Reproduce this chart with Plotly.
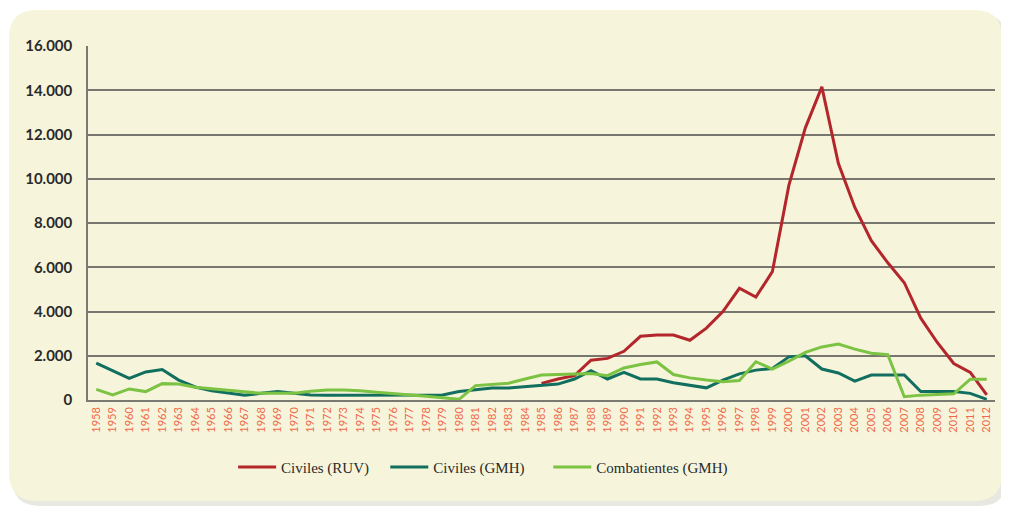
import plotly.graph_objects as go

# Years on the x axis
years = list(range(1958, 2013))
ruv_years = list(range(1985, 2013))

# Civiles (RUV), 1985-2012
civiles_ruv = [750, 950, 1100, 1800, 1880, 2200, 2880, 2940, 2940, 2700,
               3250, 4000, 5050, 4650, 5800, 9700, 12300, 14150, 10700, 8700,
               7200, 6200, 5300, 3700, 2600, 1650, 1250, 230]

# Civiles (GMH), 1958-2012
civiles_gmh = [1670, 1330, 980, 1270, 1380, 900, 590, 420, 310, 220,
               300, 380, 300, 230, 220, 220, 220, 220, 220, 220,
               220, 230, 380, 470, 540, 540, 600, 650, 720, 950,
               1330, 950, 1250, 950, 950, 780, 670, 550, 900, 1180,
               1350, 1420, 1950, 2000, 1400, 1220, 850, 1130, 1130, 1130,
               380, 380, 380, 300, 30]

# Combatientes (GMH), 1958-2012
combatientes_gmh = [480, 230, 500, 380, 740, 720, 580, 500, 440, 370,
                    300, 300, 300, 400, 450, 450, 420, 350, 300, 220,
                    170, 100, 30, 650, 700, 760, 950, 1130, 1150, 1170,
                    1200, 1100, 1450, 1600, 1720, 1150, 1000, 900, 830, 880,
                    1730, 1400, 1750, 2150, 2400, 2530, 2300, 2110, 2050, 150,
                    220, 250, 280, 940, 940]

series_names = ["Civiles (RUV)", "Civiles (GMH)", "Combatientes (GMH)"]

y_ticks = [0, 2000, 4000, 6000, 8000, 10000, 12000, 14000, 16000]

RED = "#b3262b"
TEAL = "#126e5e"
GREEN = "#7cc243"
CREAM = "#f6f5db"

# the page body adds an 8px margin, so the figure is drawn 8px smaller
OFF = 8
W, H = 1009 - OFF, 508 - OFF
L, R, T, B = 88 - OFF, 14, 46 - OFF, 108
pw, ph = W - L - R, H - T - B


def px(x):
    return (x - OFF - L) / pw


def py(y):
    return (H - B - (y - OFF)) / ph


def rounded_panel(x0, y0, x1, y1, r):
    return (f"M {px(x0 + r)},{py(y0)} L {px(x1 - r)},{py(y0)} "
            f"Q {px(x1)},{py(y0)} {px(x1)},{py(y0 + r)} "
            f"L {px(x1)},{py(y1 - r)} "
            f"Q {px(x1)},{py(y1)} {px(x1 - r)},{py(y1)} "
            f"L {px(x0 + r)},{py(y1)} "
            f"Q {px(x0)},{py(y1)} {px(x0)},{py(y1 - r)} "
            f"L {px(x0)},{py(y0 + r)} "
            f"Q {px(x0)},{py(y0)} {px(x0 + r)},{py(y0)} Z")


fig = go.Figure()

# trailing no-break spaces widen the gap between legend entries
fig.add_trace(go.Scatter(x=ruv_years, y=civiles_ruv, mode="lines",
                         name=series_names[0] + "\u00a0" * 3,
                         line=dict(color=RED, width=3)))
fig.add_trace(go.Scatter(x=years, y=civiles_gmh, mode="lines",
                         name=series_names[1] + "\u00a0" * 5,
                         line=dict(color=TEAL, width=3)))
fig.add_trace(go.Scatter(x=years, y=combatientes_gmh, mode="lines",
                         name=series_names[2], line=dict(color=GREEN, width=3)))

# soft shadow + cream rounded panel
fig.add_shape(type="path", xref="paper", yref="paper", layer="below",
              path=rounded_panel(12, 14, 1007, 506, 28),
              fillcolor="#e8e8e2", line=dict(width=0))
fig.add_shape(type="path", xref="paper", yref="paper", layer="below",
              path=rounded_panel(9, 10, 1002, 501, 28),
              fillcolor=CREAM, line=dict(width=0))

fig.update_layout(
    width=W, height=H,
    margin=dict(l=L, r=R, t=T, b=B),
    paper_bgcolor="white",
    plot_bgcolor="rgba(0,0,0,0)",
    separators=",.",
    showlegend=True,
    legend=dict(orientation="h", x=0.160, y=-0.19, xanchor="left", yanchor="middle",
                font=dict(family="Liberation Serif", size=15, color="#2a2a2a"),
                bgcolor="rgba(0,0,0,0)", itemwidth=38,
                traceorder="normal"),
)

fig.update_xaxes(
    range=[1957.5, 2012.5], tickmode="array", tickvals=years,
    tickangle=-90, tickfont=dict(family="Lato", size=11, color="#ef6a4a"),
    showgrid=False, zeroline=False, showline=True, linecolor="#7a7a72",
    linewidth=1.5, ticks="", ticklabelstandoff=1,
)
fig.update_yaxes(
    range=[0, 16000], tickmode="array", tickvals=y_ticks, tickformat=",d",
    tickfont=dict(family="Lato", size=15, color="#2a2a2a", weight="bold"),
    showgrid=True, gridcolor="#77776f", gridwidth=1.5,
    zeroline=False, showline=True, linecolor="#7a7a72", linewidth=1.5,
    ticks="", ticklabelstandoff=11,
)

fig.write_html("out.html")
